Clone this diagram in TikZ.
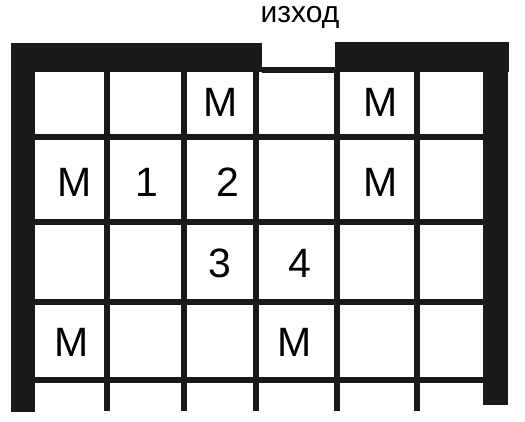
\documentclass[tikz,border=0pt]{standalone}
\usepackage{fontspec}
\setmainfont{Liberation Sans}
\begin{document}
\begin{tikzpicture}[x=1pt,y=-1pt]
	\tikzset{wall/.style={fill=black!90,draw=none}}
	\tikzset{grid line/.style={line width=5.5pt,draw=black!90}}
	\tikzset{cell label/.style={font=\fontsize{41}{41}\selectfont,inner sep=0pt}}
	\useasboundingbox (0,0) rectangle (525,421);
	\node[font=\fontsize{30}{30}\selectfont,anchor=base,inner sep=0pt] (exit) at (300,22) {изход};
	% walls
	\fill[wall] (11,43) rectangle (35,412);
	\fill[wall] (11,43) rectangle (262,72);
	\fill[wall] (335,42) rectangle (509,72);
	\fill[wall] (483,42) rectangle (508,405);
	% grid
	\foreach \gx in {107,184,256,337,417}
		\draw[grid line] (\gx,70) -- (\gx,411);
	\foreach \gy in {137,222,302,380}
		\draw[grid line] (35,\gy) -- (483,\gy);
	\draw[grid line] (262,70) -- (335,70);
	% cells
	\foreach \nm/\cx/\cy/\lab in {mA/221/102/M, mB/381/102/M, mC/75/182/M, one/147/182/1, two/228/182/2, mD/381/182/M, three/220/263/3, four/300/263/4, mE/72/342/M, mF/295/342/M}
		\node[cell label] (\nm) at (\cx,\cy) {\lab};
\end{tikzpicture}
\end{document}
